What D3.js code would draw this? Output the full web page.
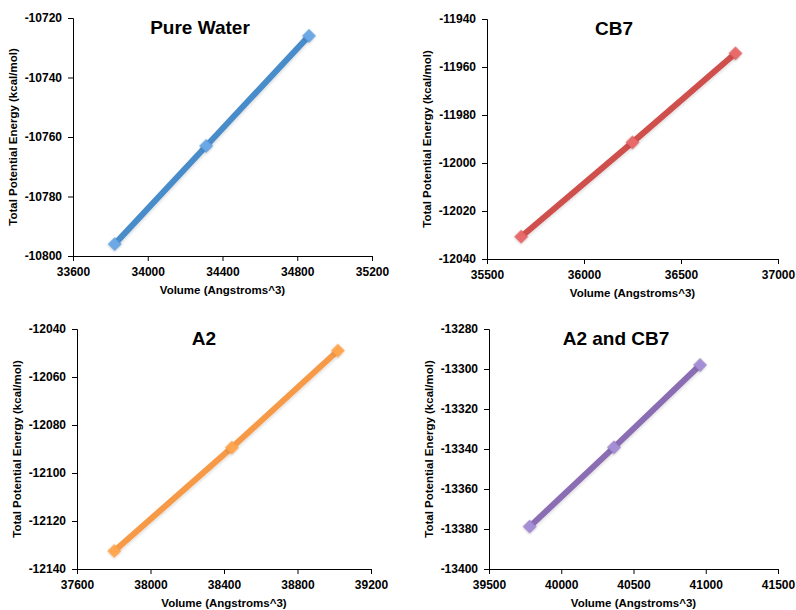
<!DOCTYPE html>
<html>
<head>
<meta charset="utf-8">
<script src="https://cdn.jsdelivr.net/npm/d3@7"></script>
<style>
  body { margin: 0; background: #fff; }
  svg { display: block; font-family: "Liberation Sans", Arial, sans-serif; }
  .tick text { font-size: 12px; font-weight: bold; fill: #000; }
  .axis-title { font-size: 11.5px; font-weight: bold; }
  .chart-title { font-size: 19px; font-weight: bold; }
</style>
</head>
<body>
<svg id="chart" width="796" height="610"></svg>
<script>
// panel names
const titles = ["Pure Water", "CB7", "A2", "A2 and CB7"];

// volume (Angstroms^3) per panel
const volumes = [
  [33823, 34313, 34863],
  [35676, 36250, 36781],
  [37803, 38443, 39020],
  [39782, 40365, 40961]
];

// total potential energy (kcal/mol) per panel
const energies = [
  [-10796, -10763, -10726],
  [-12030.7, -11991.4, -11954.3],
  [-12132.5, -12089.4, -12049],
  [-13378.8, -13339.2, -13298]
];

const xTicks = [
  [33600, 34000, 34400, 34800, 35200],
  [35500, 36000, 36500, 37000],
  [37600, 38000, 38400, 38800, 39200],
  [39500, 40000, 40500, 41000, 41500]
];

const yTicks = [
  [-10800, -10780, -10760, -10740, -10720],
  [-12040, -12020, -12000, -11980, -11960, -11940],
  [-12140, -12120, -12100, -12080, -12060, -12040],
  [-13400, -13380, -13360, -13340, -13320, -13300, -13280]
];

const lineColors = ["#4a8cca", "#cf504e", "#f79a46", "#8b6db3"];
const markerColors = ["#6ca8e6", "#e86a6a", "#ffa650", "#a48ed6"];

// plot area of each panel [left, top, right, bottom]
const boxes = [
  [73, 18, 372, 256],
  [487, 19, 778, 259],
  [77, 329, 371, 569],
  [489, 329, 778, 569]
];

const svg = d3.select("#chart");

const defs = svg.append("defs");
defs.append("filter")
  .attr("id", "shadow")
  .attr("x", "-20%").attr("y", "-20%")
  .attr("width", "140%").attr("height", "140%")
  .append("feDropShadow")
  .attr("dx", 0.8).attr("dy", 1.2)
  .attr("stdDeviation", 1.5)
  .attr("flood-color", "#000")
  .attr("flood-opacity", 0.15);

titles.forEach((name, i) => {
  const [l, t, r, b] = boxes[i];
  const xt = xTicks[i], yt = yTicks[i];

  const x = d3.scaleLinear().domain([xt[0], xt[xt.length - 1]]).range([l, r]);
  const y = d3.scaleLinear().domain([yt[0], yt[yt.length - 1]]).range([b, t]);

  const g = svg.append("g");

  const xAxis = g.append("g")
    .attr("transform", `translate(0,${b})`)
    .call(d3.axisBottom(x).tickValues(xt).tickSize(5).tickPadding(6));
  const yAxis = g.append("g")
    .attr("transform", `translate(${l},0)`)
    .call(d3.axisLeft(y).tickValues(yt).tickSize(5).tickPadding(6));

  [xAxis, yAxis].forEach(a => {
    a.select(".domain").attr("stroke", "#000").attr("stroke-width", 1);
    a.selectAll(".tick line").attr("stroke", "#000");
  });
  xAxis.selectAll(".tick text").text(d => d);
  yAxis.selectAll(".tick text").text(d => String(d));

  // axis titles
  g.append("text")
    .attr("class", "axis-title")
    .attr("x", (l + r) / 2)
    .attr("y", b + 38)
    .attr("text-anchor", "middle")
    .text("Volume (Angstroms^3)");

  g.append("text")
    .attr("class", "axis-title")
    .attr("transform", `translate(${l - 56},${(t + b) / 2}) rotate(-90)`)
    .attr("text-anchor", "middle")
    .text("Total Potential Energy (kcal/mol)");

  g.append("text")
    .attr("class", "chart-title")
    .attr("x", l + 127)
    .attr("y", t + 16)
    .attr("text-anchor", "middle")
    .text(name);

  const pts = volumes[i].map((v, k) => [v, energies[i][k]]);

  const line = d3.line().x(d => x(d[0])).y(d => y(d[1]));

  g.append("path")
    .datum(pts)
    .attr("d", line)
    .attr("fill", "none")
    .attr("stroke", lineColors[i])
    .attr("stroke-width", 6)
    .attr("filter", "url(#shadow)");

  const diamond = d3.symbol().type(d3.symbolSquare).size(85);

  g.selectAll(".marker")
    .data(pts)
    .join("path")
    .attr("class", "marker")
    .attr("d", diamond)
    .attr("transform", d => `translate(${x(d[0])},${y(d[1])}) rotate(45)`)
    .attr("fill", markerColors[i])
    .attr("stroke", lineColors[i])
    .attr("stroke-opacity", 0.6)
    .attr("stroke-width", 0.8)
    .attr("filter", "url(#shadow)");
});
</script>
</body>
</html>
